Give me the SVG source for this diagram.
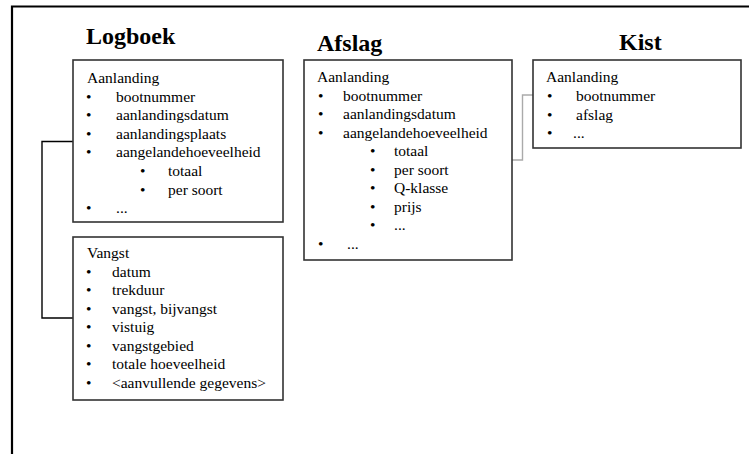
<svg xmlns="http://www.w3.org/2000/svg" width="749" height="454" viewBox="0 0 749 454">
  <style>
    .frame { fill: none; stroke: #000; stroke-width: 2.2; }
    .box { fill: #fff; stroke: #333; stroke-width: 1.6; }
    .title { font-family: "Liberation Serif", "Times New Roman", serif; font-size: 24px; font-weight: bold; fill: #000; }
    .txt { font-family: "Liberation Serif", "Times New Roman", serif; font-size: 15.5px; fill: #000; }
    .link { fill: none; stroke: #000; stroke-width: 1.4; }
    .link-grey { fill: none; stroke: #aaa; stroke-width: 1.4; }
  </style>

  <rect width="749" height="454" fill="#fff"/>

  <!-- outer frame: top and left edges -->
  <path class="frame" d="M749 6.5 H12 V454"/>

  <!-- titles -->
  <text class="title" x="86" y="44">Logboek</text>
  <text class="title" x="317" y="51">Afslag</text>
  <text class="title" x="619" y="50">Kist</text>

  <!-- connectors -->
  <g id="connectors">
    <path class="link" d="M73 141.5 H42 V318 H73"/>
    <path class="link-grey" d="M512 160 H522.5 V95 H533"/>
  </g>

  <!-- Logboek: Aanlanding -->
  <g id="logboek-aanlanding">
    <rect class="box" x="73" y="60" width="210" height="162"/>
    <text class="txt" x="87" y="83">Aanlanding</text>
    <text class="txt" x="86" y="101.5">•</text><text class="txt" x="116" y="101.5">bootnummer</text>
    <text class="txt" x="86" y="120">•</text><text class="txt" x="116" y="120">aanlandingsdatum</text>
    <text class="txt" x="86" y="138.5">•</text><text class="txt" x="116" y="138.5">aanlandingsplaats</text>
    <text class="txt" x="86" y="157">•</text><text class="txt" x="116" y="157">aangelandehoeveelheid</text>
    <text class="txt" x="140" y="176">•</text><text class="txt" x="168" y="176">totaal</text>
    <text class="txt" x="140" y="194.5">•</text><text class="txt" x="168" y="194.5">per soort</text>
    <text class="txt" x="86" y="213">•</text><text class="txt" x="116" y="213">...</text>
  </g>

  <!-- Logboek: Vangst -->
  <g id="logboek-vangst">
    <rect class="box" x="73" y="237" width="210" height="163"/>
    <text class="txt" x="87" y="258">Vangst</text>
    <text class="txt" x="86" y="276.5">•</text><text class="txt" x="112" y="276.5">datum</text>
    <text class="txt" x="86" y="295">•</text><text class="txt" x="112" y="295">trekduur</text>
    <text class="txt" x="86" y="313.5">•</text><text class="txt" x="112" y="313.5">vangst, bijvangst</text>
    <text class="txt" x="86" y="332">•</text><text class="txt" x="112" y="332">vistuig</text>
    <text class="txt" x="86" y="350.5">•</text><text class="txt" x="112" y="350.5">vangstgebied</text>
    <text class="txt" x="86" y="369">•</text><text class="txt" x="112" y="369">totale hoeveelheid</text>
    <text class="txt" x="86" y="387.5">•</text><text class="txt" x="112" y="387.5">&lt;aanvullende gegevens&gt;</text>
  </g>

  <!-- Afslag: Aanlanding -->
  <g id="afslag-aanlanding">
    <rect class="box" x="304" y="60" width="208" height="200"/>
    <text class="txt" x="317" y="82">Aanlanding</text>
    <text class="txt" x="318" y="100.5">•</text><text class="txt" x="343" y="100.5">bootnummer</text>
    <text class="txt" x="318" y="119">•</text><text class="txt" x="343" y="119">aanlandingsdatum</text>
    <text class="txt" x="318" y="137.5">•</text><text class="txt" x="343" y="137.5">aangelandehoeveelheid</text>
    <text class="txt" x="370" y="156">•</text><text class="txt" x="394" y="156">totaal</text>
    <text class="txt" x="370" y="174.5">•</text><text class="txt" x="394" y="174.5">per soort</text>
    <text class="txt" x="370" y="193">•</text><text class="txt" x="394" y="193">Q-klasse</text>
    <text class="txt" x="370" y="211.5">•</text><text class="txt" x="394" y="211.5">prijs</text>
    <text class="txt" x="370" y="230">•</text><text class="txt" x="394" y="230">...</text>
    <text class="txt" x="318" y="248.5">•</text><text class="txt" x="347" y="248.5">...</text>
  </g>

  <!-- Kist: Aanlanding -->
  <g id="kist-aanlanding">
    <rect class="box" x="533" y="60" width="208" height="88"/>
    <text class="txt" x="546" y="82">Aanlanding</text>
    <text class="txt" x="547" y="101">•</text><text class="txt" x="576" y="101">bootnummer</text>
    <text class="txt" x="547" y="119.5">•</text><text class="txt" x="576" y="119.5">afslag</text>
    <text class="txt" x="547" y="138">•</text><text class="txt" x="573" y="138">...</text>
  </g>
</svg>
